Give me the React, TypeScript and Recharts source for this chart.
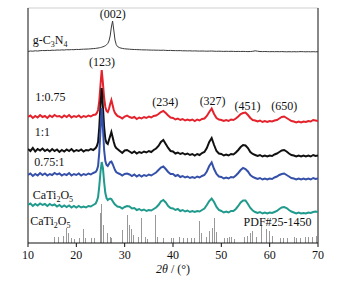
import React from "react";
import { ComposedChart, Line, Bar, XAxis, YAxis, ReferenceLine, ReferenceDot } from "recharts";

// 2θ sampling of the traces (finer around the main reflections)
const angles = [
  10, 10.5, 11, 11.5, 12, 12.5, 13, 13.5, 14, 14.5, 15, 15.5, 16, 16.5, 17, 17.5, 18, 18.5, 19, 19.5,
  20, 20.5, 21, 21.5, 22, 22.5, 23, 23.5, 24,
  24.25, 24.5, 24.75, 25, 25.25, 25.5, 25.75, 26, 26.25, 26.5, 26.75, 27, 27.25, 27.5, 27.75, 28, 28.25, 28.5,
  29, 29.5, 30, 30.5, 31, 31.5, 32, 32.5, 33, 33.5,
  34, 34.5, 35, 35.5, 36, 36.5, 37, 37.5, 38, 38.5,
  39, 39.5, 40, 40.5, 41, 41.5, 42, 42.5, 43, 43.5,
  44, 44.5, 45, 45.5, 46, 46.5, 47, 47.5, 48, 48.5,
  49, 49.5, 50, 50.5, 51, 51.5, 52, 52.5, 53, 53.5,
  54, 54.5, 55, 55.5, 56, 56.5, 57, 57.5, 58, 58.5,
  59, 59.5, 60, 60.5, 61, 61.5, 62, 62.5, 63, 63.5,
  64, 64.5, 65, 65.5, 66, 66.5, 67, 67.5, 68, 68.5,
  69, 69.5, 70,
];

const gC3N4 = [
  0.5, 1, 0.8, 1.2, 1, 1.3, 1.5, 1.4, 1.6, 1.5, 1.8, 1.7, 2, 1.9, 2.1, 2, 2.3, 2.2, 2.4, 2.3,
  2.6, 2.5, 2.7, 2.8, 2.9, 3, 3.2, 3.4, 3.6,
  3.8, 4, 4.2, 4.5, 4.8, 5.2, 5.7, 6.3, 7.2, 8.5, 11, 16, 25, 31, 22, 12, 7.5, 5.5,
  4.2, 3.6, 3.2, 3, 2.8, 2.6, 2.5, 2.4, 2.3, 2.2,
  2.1, 2.1, 2, 1.9, 1.9, 1.8, 1.8, 1.7, 1.8, 1.6,
  1.5, 1.6, 1.4, 1.4, 1.3, 1.4, 1.2, 1.2, 1.1, 1.2,
  1, 1.1, 1, 0.9, 1, 0.9, 0.8, 0.9, 1, 0.8,
  0.7, 0.8, 0.7, 0.6, 0.7, 0.6, 0.7, 0.6, 0.5, 0.6,
  0.5, 0.6, 0.5, 0.4, 0.5, 0.7, 1.2, 0.8, 0.5, 0.4,
  0.5, 0.4, 0.3, 0.4, 0.3, 0.4, 0.3, 0.4, 0.3, 0.2,
  0.3, 0.2, 0.3, 0.2, 0.3, 0.4, 0.3, 0.2, 0.3, 0.2,
  0.3, 0.2, 0.3,
];

const ratio1to075 = [
  6, 7.5, 5, 7, 5.5, 8, 6, 7, 5, 7.5, 6, 8, 6.5, 7, 5.5, 7.5, 6, 8, 5.5, 7,
  6, 7.5, 5.5, 7, 6, 7.5, 6.5, 8, 8.5,
  10, 13, 22, 38, 53, 40, 25, 16, 12, 11, 14, 19, 23, 18, 13, 10, 8.5, 7,
  6, 4.5, 6.5, 7.5, 6, 5, 6, 4, 5.5, 4.5,
  6, 5, 6.5, 5.5, 7, 7.5, 9, 11, 12, 10,
  7.5, 5.5, 5, 3.5, 4.5, 3, 4, 2.5, 3.5, 2.5,
  3.5, 2, 3.5, 2.5, 4, 4.5, 7, 11, 14.5, 9,
  5, 3.5, 3, 2, 3, 2, 3.5, 3, 4.5, 6.5,
  9, 10, 10.5, 8, 5, 3, 2.5, 1.5, 2.5, 1,
  2, 1, 2, 1.5, 2.5, 3, 4.5, 6, 6.5, 5,
  3.5, 2, 1.5, 0.5, 1.5, 0.5, 1.5, 1, 2, 1.5,
  3, 2.5, 2,
];

const ratio1to1 = [
  8, 6, 9, 5.5, 8, 6.5, 8.5, 6, 7.5, 5.5, 8, 6, 7.5, 5, 7, 5.5, 7.5, 6, 8, 5.5,
  7, 6, 7.5, 5.5, 7, 6.5, 8, 7, 9,
  11, 15, 30, 52, 69, 50, 30, 18, 14, 13, 17, 21, 25, 20, 15, 11, 9, 8,
  6, 4, 6.5, 7, 5.5, 4, 5.5, 3.5, 5, 4,
  5.5, 4.5, 6, 5, 7, 8.5, 11, 15, 17, 13,
  9, 6, 5.5, 3.5, 4.5, 3, 4, 2.5, 3.5, 2,
  3, 1.5, 3, 2, 4, 5, 9, 15, 19, 12,
  6, 3.5, 3, 1.5, 2.5, 1.5, 3, 2.5, 4.5, 7,
  10, 12, 11.5, 9, 5, 3, 2, 1, 2, 0.5,
  1.5, 0.5, 1.5, 1, 2.5, 3.5, 5, 6.5, 7, 5.5,
  3.5, 2, 1.5, 0.5, 1.5, 0.5, 1.5, 0.5, 1.5, 0.5,
  2, 1, 1.5,
];

const ratio075to1 = [
  5, 6.5, 4, 6, 4.5, 7, 5, 6.5, 4.5, 6, 5, 7, 5.5, 6.5, 4.5, 6, 5, 7, 4.5, 6,
  5, 6.5, 4.5, 6, 5, 6.5, 5.5, 7, 8,
  10, 14, 28, 50, 72, 52, 30, 19, 15, 14, 16, 18, 18.5, 16, 13, 10, 8, 7,
  6, 4.5, 6, 6.5, 5.5, 4, 5.5, 3.5, 5, 3.5,
  5, 4, 5.5, 4.5, 6, 7.5, 10, 12.5, 13.5, 11,
  8, 6, 6, 4, 5, 3, 4, 2.5, 3.5, 2,
  3, 2, 3.5, 2.5, 4, 5, 8.5, 14, 17.5, 11,
  6, 3.5, 3, 1.5, 2.5, 1.5, 3, 2.5, 4.5, 7,
  10, 12, 11, 8.5, 5, 3, 2, 1, 2, 0.5,
  1.5, 0.5, 1.5, 1, 2.5, 3.5, 5, 6, 6.5, 5,
  3.5, 2, 1.5, 0.5, 1.5, 0.5, 1.5, 0.5, 1.5, 0.5,
  2, 1, 1.5,
];

const caTi2O5 = [
  9, 10.5, 8, 10, 8.5, 10.5, 9, 10, 8, 10, 8.5, 9.5, 7.5, 9, 7, 8.5, 7, 8.5, 6.5, 8,
  6.5, 8, 6.5, 7.5, 6.5, 8, 7.5, 9, 10.5,
  13, 17, 28, 42, 52, 46, 32, 21, 16, 14, 15, 15.5, 15, 13, 11, 9.5, 8.5, 7.5,
  7, 5.5, 7, 8, 7.5, 5.5, 6, 4, 5, 3.5,
  4.5, 3, 4, 3.5, 5, 6.5, 9, 12.5, 14, 11.5,
  8, 6, 5.5, 4, 5, 3, 4, 2.5, 3.5, 2,
  3, 2, 3, 2.5, 4, 5.5, 9, 13, 15.5, 12,
  7, 4, 3, 1.5, 2.5, 1.5, 3, 3, 5, 8,
  11.5, 13.5, 13.5, 10, 6, 3.5, 2, 1, 2, 0.5,
  1.5, 0.5, 1.5, 1, 2, 3, 5, 6.5, 7, 6,
  4, 2.5, 1.5, 0.5, 1.5, 0.5, 1, 0.5, 1.5, 1,
  2, 2.5, 2,
];

// vertical stacking offset of each trace (a.u.)
const offsets = [191, 120, 86, 63, 29];
const colors = ["#3a3a3a", "#e3222c", "#111111", "#3550a8", "#1f9a8c"];

// PDF#25-1450 reference lines
const pdfAngles = [
  15.5, 16.4, 17.3, 17.9, 18.4, 18.9, 19.6, 20.6, 21.4, 22.0, 23.1, 23.8, 25.0, 25.3, 25.7, 26.5, 27.0, 27.3,
  29.6, 30.5, 30.9, 31.4, 31.9, 32.8, 33.4, 34.4, 34.7, 36.3, 36.8, 38.0, 39.6, 40.1, 41.3, 42.1, 43.1, 43.9,
  44.5, 45.4, 45.9, 47.0, 47.6, 48.1, 48.6, 49.1, 50.7, 51.2, 51.7, 52.2, 52.8, 54.8, 55.4, 56.0, 56.5, 57.2,
  58.3, 59.4, 59.9, 60.5, 62.3, 62.9, 63.6, 65.1, 65.6, 66.4, 67.4, 68.1, 68.8, 69.6,
];
const pdfHeights = [
  6, 6, 7, 15, 10, 5, 4, 5, 14, 5, 5, 5, 30, 39, 18, 10, 6, 5,
  13, 28, 18, 14, 8, 6, 25, 6, 4, 28, 6, 5, 5, 5, 6, 5, 5, 5,
  5, 22, 10, 6, 12, 15, 25, 11, 5, 5, 6, 6, 4, 6, 7, 10, 12, 6,
  18, 14, 12, 7, 5, 5, 5, 6, 5, 5, 6, 6, 6, 7,
];

const xTicks = [10, 20, 30, 40, 50, 60, 70];

const traces = [gC3N4, ratio1to075, ratio1to1, ratio075to1, caTi2O5].map((vals, k) =>
  angles.map((t, i) => ({ t, v: vals[i] + offsets[k] }))
);
const sticks = pdfAngles.map((t, i) => ({ t, h: pdfHeights[i] }));

const FONT = "Liberation Serif, Times New Roman, serif";

function Tag(props: any) {
  const { viewBox, parts, anchor = "middle" } = props;
  return (
    <text x={viewBox.x} y={viewBox.y} textAnchor={anchor} fontFamily={FONT} fontSize={12} fill="#111">
      {parts.map((p: string, i: number) =>
        i % 2 ? (
          <tspan key={i} dy={3} fontSize={8}>{p}</tspan>
        ) : (
          <tspan key={i} dy={i ? -3 : 0}>{p}</tspan>
        )
      )}
    </text>
  );
}

function XTick(props: any) {
  const { x, y, payload } = props;
  return (
    <text x={x} y={y + 8} textAnchor="middle" fontFamily={FONT} fontSize={12} fill="#111">
      {payload.value}
    </text>
  );
}

function XTitle(props: any) {
  const { viewBox } = props;
  return (
    <text x={viewBox.x + viewBox.width / 2} y={viewBox.y + 30} textAnchor="middle" fontFamily={FONT} fontSize={12} fill="#111">
      <tspan fontStyle="italic">2θ</tspan>
      <tspan> / (°)</tspan>
    </text>
  );
}

// 1px reference stick snapped to the pixel grid
function Stick(props: any) {
  const { x, y, width, height } = props;
  if (!height) return null;
  return <rect x={Math.floor(x + width / 2)} y={y} width={1} height={height} fill="#999" />;
}

const note = (x: number, y: number, parts: string[], anchor = "middle") => (
  <ReferenceDot
    key={parts.join("") + x + y}
    x={x}
    y={y}
    r={0}
    fill="none"
    stroke="none"
    label={<Tag parts={parts} anchor={anchor} />}
  />
);

export default function App() {
  return (
    <div style={{ position: "fixed", left: 0, top: 0, width: 343, height: 284, background: "#fff" }}>
      <ComposedChart width={343} height={284} data={sticks} margin={{ top: 8, right: 25, bottom: 11, left: 28 }}>
        <XAxis
          dataKey="t"
          type="number"
          domain={[10, 70]}
          ticks={xTicks}
          allowDataOverflow
          height={30}
          tickSize={4}
          tickMargin={4}
          stroke="#111"
          tick={<XTick />}
          label={<XTitle />}
        />
        <YAxis hide type="number" domain={[0, 235]} allowDataOverflow />
        <ReferenceLine y={235} stroke="#cfcfcf" />
        <ReferenceLine x={10} stroke="#111" />
        <ReferenceLine x={70} stroke="#111" />
        <Bar dataKey="h" fill="#999" barSize={1} shape={<Stick />} isAnimationActive={false} />
        {traces.map((d, k) => (
          <Line
            key={k}
            data={d}
            dataKey="v"
            type="linear"
            dot={false}
            stroke={colors[k]}
            strokeWidth={k === 0 ? 1 : 2}
            strokeLinejoin="miter"
            isAnimationActive={false}
          />
        ))}
        {note(27.55, 225, ["(002)"])}
        {note(11.0, 199, ["g-C", "3", "N", "4"], "start")}
        {note(25.3, 177, ["(123)"])}
        {note(11.5, 142, ["1:0.75"], "start")}
        {note(38.4, 137, ["(234)"])}
        {note(48.2, 138, ["(327)"])}
        {note(55.4, 133, ["(451)"])}
        {note(63.0, 133, ["(650)"])}
        {note(11.4, 107, ["1:1"], "start")}
        {note(11.3, 77, ["0.75:1"], "start")}
        {note(11.0, 44, ["CaTi", "2", "O", "5"], "start")}
        {note(10.45, 18, ["CaTi", "2", "O", "5"], "start")}
        {note(54.6, 17, ["PDF#25-1450"], "start")}
      </ComposedChart>
    </div>
  );
}
